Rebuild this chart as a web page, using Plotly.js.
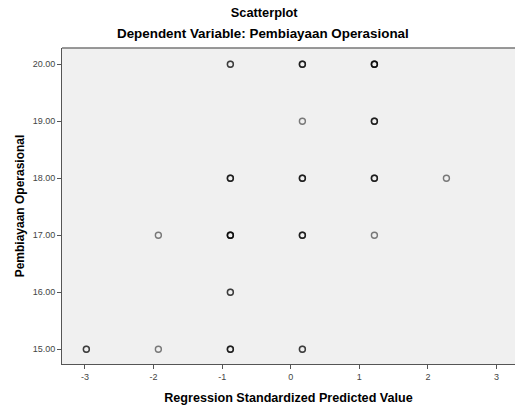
<!DOCTYPE html>
<html>
<head>
<meta charset="utf-8">
<script src="https://cdn.plot.ly/plotly-3.0.1.min.js"></script>
<style>html,body{margin:0;padding:0;background:#fff;}#chart{width:515px;height:405px;}</style>
</head>
<body>
<div id="chart"></div>
<script>
// Regression standardized predicted values (repeated entries = overlapping cases)
const predicted = [
  -0.88, -0.88, 0.17, 0.17, 0.17, 1.22, 1.22, 1.22, 1.22,
  0.17, 1.22, 1.22, 1.22,
  -0.88, -0.88, -0.88, 0.17, 0.17, 0.17, 1.22, 1.22, 1.22, 2.27,
  -1.93, -0.88, -0.88, -0.88, -0.88, 0.17, 0.17, 0.17, 1.22,
  -0.88, -0.88,
  -2.98, -2.98, -1.93, -0.88, -0.88, -0.88, 0.17, 0.17
];
// Pembiayaan Operasional (dependent variable)
const operasional = [
  20, 20, 20, 20, 20, 20, 20, 20, 20,
  19, 19, 19, 19,
  18, 18, 18, 18, 18, 18, 18, 18, 18, 18,
  17, 17, 17, 17, 17, 17, 17, 17, 17,
  16, 16,
  15, 15, 15, 15, 15, 15, 15, 15
];
const xTicks = [-3, -2, -1, 0, 1, 2, 3];
const yTicks = [15, 16, 17, 18, 19, 20];
const yTickText = ["15.00", "16.00", "17.00", "18.00", "19.00", "20.00"];

const FONT = "Liberation Sans, Arial, sans-serif";

const trace = {
  x: predicted,
  y: operasional,
  type: "scatter",
  mode: "markers",
  marker: {
    symbol: "circle-open",
    size: 6,
    color: "rgba(0,0,0,0.5)",
    line: {width: 1.4}
  },
  hoverinfo: "x+y"
};

const layout = {
  width: 515,
  height: 405,
  margin: {l: 62, r: 0, t: 48, b: 41},
  paper_bgcolor: "#ffffff",
  plot_bgcolor: "#f0f0f0",
  showlegend: false,
  title: {
    text: "<b>Scatterplot</b>",
    font: {family: FONT, size: 12.8, color: "#000"},
    x: 0.513, xref: "container", xanchor: "center",
    y: 0.968, yref: "container", yanchor: "middle"
  },
  annotations: [{
    text: "<b>Dependent Variable: Pembiayaan Operasional</b>",
    xref: "paper", yref: "paper",
    x: 0.444, y: 1.047, xanchor: "center", yanchor: "middle",
    showarrow: false,
    font: {family: FONT, size: 13.4, color: "#000"}
  }],
  xaxis: {
    range: [-3.335, 3.27],
    tickvals: xTicks,
    ticktext: xTicks.map(String),
    ticks: "outside",
    ticklen: 4,
    tickwidth: 1,
    tickcolor: "#555",
    tickfont: {family: FONT, size: 9, color: "#444"},
    showgrid: false,
    zeroline: false,
    showline: true,
    linecolor: "#555",
    linewidth: 1,
    mirror: false,
    title: {
      text: "<b>Regression Standardized Predicted Value</b>",
      font: {family: FONT, size: 12.6, color: "#000"},
      standoff: 12
    }
  },
  yaxis: {
    range: [14.742, 20.286],
    tickvals: yTicks,
    ticktext: yTickText,
    ticks: "outside",
    ticklen: 4,
    tickwidth: 1,
    tickcolor: "#555",
    tickfont: {family: FONT, size: 9, color: "#444"},
    showgrid: false,
    zeroline: false,
    showline: true,
    linecolor: "#555",
    linewidth: 1,
    title: {
      text: "<b>Pembiayaan Operasional</b>",
      font: {family: FONT, size: 12, color: "#000"},
      standoff: 5
    }
  },
  shapes: [{
    type: "line", xref: "paper", yref: "paper",
    x0: 0, x1: 1, y0: 1, y1: 1,
    line: {color: "#777", width: 1.5}
  }]
};

Plotly.newPlot("chart", [trace], layout, {displayModeBar: false, staticPlot: true});
</script>
</body>
</html>
